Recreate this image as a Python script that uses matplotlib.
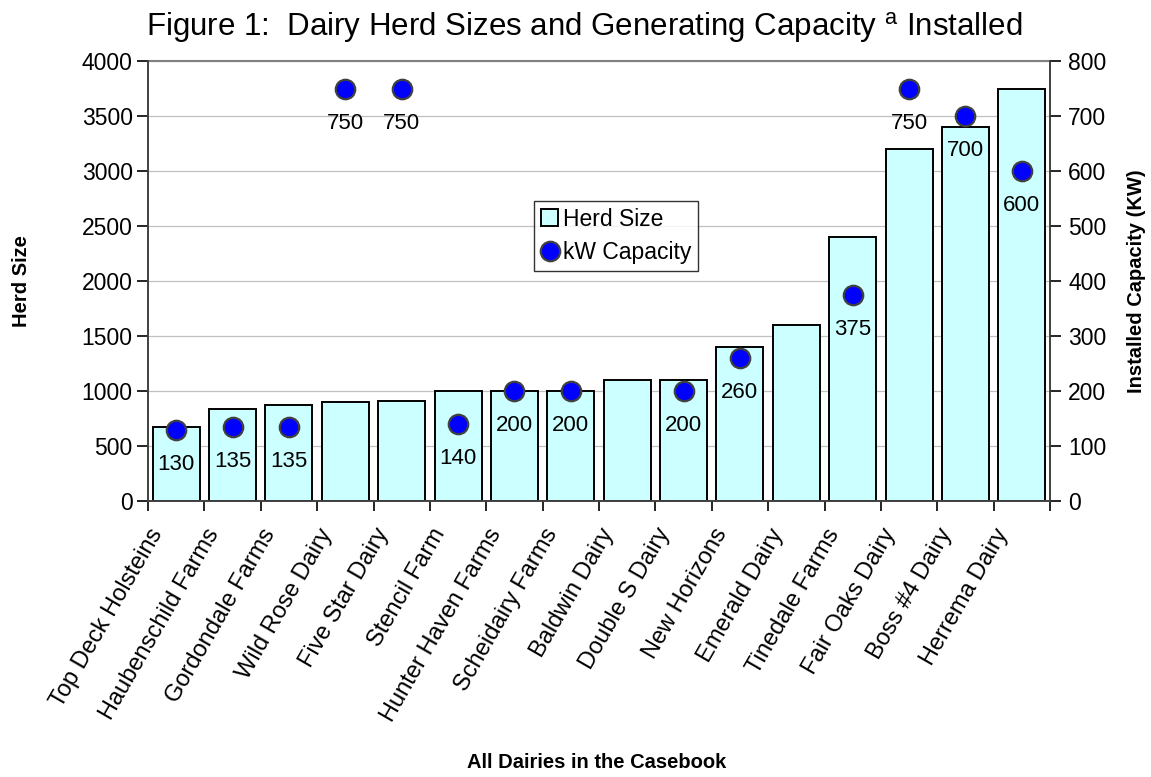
import numpy as np
import matplotlib
matplotlib.use('Agg')
import matplotlib.pyplot as plt
from matplotlib.lines import Line2D
from matplotlib.patches import Patch

plt.rcParams['font.family'] = ['Liberation Sans', 'DejaVu Sans']
plt.rcParams['mathtext.fontset'] = 'custom'
plt.rcParams['mathtext.rm'] = 'Liberation Sans'

dairies = ['Top Deck Holsteins', 'Haubenschild Farms', 'Gordondale Farms', 'Wild Rose Dairy',
           'Five Star Dairy', 'Stencil Farm', 'Hunter Haven Farms', 'Scheidairy Farms',
           'Baldwin Dairy', 'Double S Dairy', 'New Horizons', 'Emerald Dairy',
           'Tinedale Farms', 'Fair Oaks Dairy', 'Boss #4 Dairy', 'Herrema Dairy']
herd = [675, 840, 875, 900, 910, 1000, 1000, 1000, 1100, 1100, 1400, 1600, 2400, 3200, 3400, 3750]
kw = [130, 135, 135, 750, 750, 140, 200, 200, None, 200, 260, None, 375, 750, 700, 600]

W, H = 1151, 777
fig = plt.figure(figsize=(W/100, H/100), dpi=100)
ax = fig.add_axes([148/W, 1-501/H, 902/W, 440/H])
ax2 = ax.twinx()

x = np.arange(len(dairies))
ax.bar(x, herd, width=0.835, color='#CCFFFF', edgecolor='black', linewidth=1.4, zorder=2)
ax.set_xlim(-0.5, len(dairies) - 0.5)
ax.set_ylim(0, 4000)
ax.set_yticks(range(0, 4001, 500))
ax.yaxis.grid(True, color='#c0c0c0', linewidth=0.9, zorder=0)
ax.set_axisbelow(True)

# category boundary ticks, excel style; labels placed by hand below
ax.set_xticks(np.arange(-0.5, len(dairies)))
ax.set_xticklabels([])
ax.tick_params(axis='x', length=7, width=1.2, direction='out')
ax.tick_params(axis='y', labelsize=16.5, length=8, width=1.2, direction='out', pad=3)
for i, name in enumerate(dairies):
    ax.annotate(name, (i, 0), xycoords=('data', 'axes fraction'), xytext=(-20, -17),
                textcoords='offset points', rotation=60, ha='right', va='top',
                rotation_mode='anchor', fontsize=17, annotation_clip=False)

kx = [i for i, v in enumerate(kw) if v is not None]
ky = [v for v in kw if v is not None]
ax2.plot(kx, ky, 'o', color='#0000ff', markeredgecolor='#404040', markeredgewidth=1.6,
         markersize=14, linestyle='none', zorder=3)
for xi, yi in zip(kx, ky):
    ax2.annotate(str(yi), (xi, yi), xytext=(0, -25), textcoords='offset points',
                 ha='center', va='center', fontsize=16)
ax2.set_ylim(0, 800)
ax2.set_yticks(range(0, 801, 100))
ax2.tick_params(axis='y', labelsize=16.5, length=8, width=1.2, direction='out', pad=5)

for a in (ax, ax2):
    a.spines['top'].set_visible(False)
    for s in ('left', 'right', 'bottom'):
        a.spines[s].set_linewidth(1.2)
        a.spines[s].set_color('#404040')
ax.plot([-0.5, len(dairies) - 0.5], [4000, 4000], color='#808080', lw=1.5, clip_on=False, zorder=1)

fig.text(22/W, 1-281/H, 'Herd Size', fontsize=14.5, fontweight='bold', rotation=90,
         ha='center', va='center')
fig.text(1137/W, 1-281/H, 'Installed Capacity (KW)', fontsize=14.5, fontweight='bold', rotation=90,
         ha='center', va='center')
fig.text(597/W, 1-762/H, 'All Dairies in the Casebook', fontsize=14.5, fontweight='bold',
         ha='center', va='center')
fig.text(584/W, 1-28/H, 'Figure 1:  Dairy Herd Sizes and Generating Capacity ${}^{\\mathrm{a}}$ Installed',
         fontsize=22.5, ha='center', va='center')

handles = [Patch(facecolor='#CCFFFF', edgecolor='black', linewidth=1.4),
           Line2D([], [], marker='o', color='#0000ff', markeredgecolor='#404040',
                  markeredgewidth=1.6, markersize=14, linestyle='none')]
leg = ax2.legend(handles, ['Herd Size', 'kW Capacity'], loc='upper left',
                 bbox_to_anchor=(0.428, 0.682), fontsize=16.5, frameon=True, fancybox=False,
                 edgecolor='black', handlelength=0.75, handleheight=0.75, handletextpad=0.2,
                 borderpad=0.3, labelspacing=0.45, borderaxespad=0)
leg.get_frame().set_linewidth(1.0)

fig.savefig('out.png', dpi=100)
